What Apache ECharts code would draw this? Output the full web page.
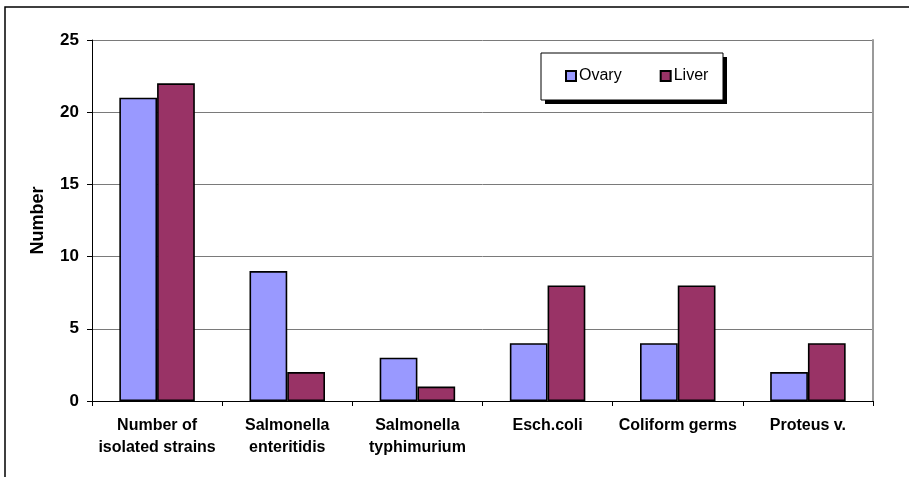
<!DOCTYPE html>
<html>
<head>
<meta charset="utf-8">
<script src="https://cdn.jsdelivr.net/npm/echarts@6/dist/echarts.min.js"></script>
<style>
  html, body { margin: 0; padding: 0; background: #fff; }
  #chart { width: 909px; height: 477px; }
</style>
</head>
<body>
<div id="chart"></div>
<script>
// Isolated strains by organ
const categories = [
  'Number of\nisolated strains',
  'Salmonella\nenteritidis',
  'Salmonella\ntyphimurium',
  'Esch.coli',
  'Coliform germs',
  'Proteus v.'
];
const ovary = [21, 9, 3, 4, 4, 2];
const liver = [22, 2, 1, 8, 8, 4];
const yTicks = { min: 0, max: 25, interval: 5 };

const FONT = 'Arial, "Liberation Sans", sans-serif';
const chart = echarts.init(document.getElementById('chart'), null, { renderer: 'canvas' });

chart.setOption({
  animation: false,
  backgroundColor: '#ffffff',
  graphic: [{
    // outer chart frame
    type: 'rect',
    shape: { x: 5, y: 7, width: 960, height: 520 },
    style: { fill: 'none', stroke: '#000', lineWidth: 1.5 },
    silent: true
  }, {
    // legend box drop shadow
    type: 'rect',
    shape: { x: 545, y: 57, width: 182, height: 47 },
    style: { fill: '#000' },
    silent: true, z: 1
  }, {
    // legend box
    type: 'rect',
    shape: { x: 541, y: 53, width: 182, height: 47 },
    style: { fill: '#fff', stroke: '#000', lineWidth: 1 },
    silent: true, z: 2
  }],
  grid: { left: 92, right: 36, top: 40, bottom: 76, containLabel: false },
  legend: {
    left: 541, top: 53,
    orient: 'horizontal',
    padding: [15, 18, 15, 24],
    itemGap: 38,
    itemWidth: 10, itemHeight: 10,
    icon: 'rect',
    z: 5,
    textStyle: { fontFamily: FONT, fontSize: 16, color: '#000', padding: [0, 0, 0, -2] },
    data: ['Ovary', 'Liver']
  },
  xAxis: {
    type: 'category',
    data: categories,
    axisLine: { lineStyle: { color: '#000', width: 1 } },
    axisTick: { show: true, length: 5, lineStyle: { color: '#000' } },
    axisLabel: {
      interval: 0, margin: 14,
      fontFamily: FONT, fontSize: 16, fontWeight: 'bold', color: '#000',
      lineHeight: 22
    }
  },
  yAxis: [{
    type: 'value',
    min: yTicks.min, max: yTicks.max, interval: yTicks.interval,
    name: 'Number',
    nameLocation: 'middle',
    nameGap: 45,
    nameTextStyle: { fontFamily: FONT, fontSize: 18, fontWeight: 'bold', color: '#000' },
    axisLine: { show: true, lineStyle: { color: '#000', width: 1 } },
    axisTick: { show: true, length: 5, lineStyle: { color: '#000' } },
    axisLabel: { margin: 13, fontFamily: FONT, fontSize: 17, fontWeight: 'bold', color: '#000' },
    splitLine: { show: true, lineStyle: { color: '#7a7a7a', width: 1 } }
  }, {
    // plot-area right edge
    type: 'value',
    position: 'right',
    min: yTicks.min, max: yTicks.max, interval: yTicks.interval,
    axisLine: { show: true, lineStyle: { color: '#9a9a9a', width: 2 } },
    axisTick: { show: false },
    axisLabel: { show: false },
    splitLine: { show: false }
  }],
  series: [{
    name: 'Ovary',
    type: 'bar',
    data: ovary,
    barGap: '0%',
    barCategoryGap: '42%',
    itemStyle: { color: '#9999FF', borderColor: '#000', borderWidth: 1.6 }
  }, {
    name: 'Liver',
    type: 'bar',
    data: liver,
    barGap: '0%',
    barCategoryGap: '42%',
    itemStyle: { color: '#993366', borderColor: '#000', borderWidth: 1.6 }
  }]
});
</script>
</body>
</html>
